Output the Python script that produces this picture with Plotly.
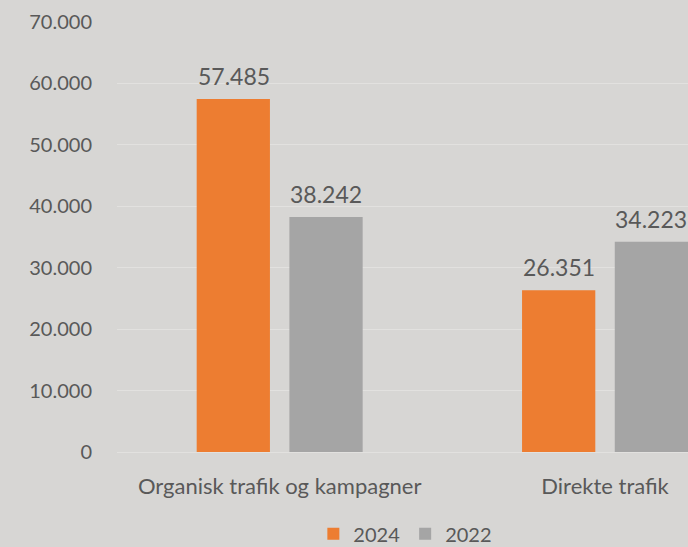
import plotly.graph_objects as go

categories = ["Organisk trafik og kampagner", "Direkte trafik"]
series_names = ["2024", "2022"]
values_2024 = [57485, 26351]
values_2022 = [38242, 34223]
tick_vals = [0, 10000, 20000, 30000, 40000, 50000, 60000, 70000]

colors = ["#ED7D31", "#A5A5A5"]
text_color = "#595959"
font_family = "Lato, 'Open Sans', sans-serif"

fig = go.Figure()
for name, vals, col in zip(series_names, [values_2024, values_2022], colors):
    fig.add_trace(go.Bar(
        name=name, x=categories, y=vals, marker_color=col,
        marker_line_width=0,
    ))

# data labels above bars
offsets = [-46, 46]
for vals, xs in zip([values_2024, values_2022], offsets):
    for cat, v in zip(categories, vals):
        fig.add_annotation(
            x=cat, y=v, xref="x", yref="y", xshift=xs, yshift=7,
            text=f"{v:,}".replace(",", "."), showarrow=False,
            yanchor="bottom", xanchor="center",
            font=dict(size=23, color=text_color, family=font_family),
        )

fig.update_layout(
    width=688, height=547,
    margin=dict(l=117, r=0, t=22, b=95, autoexpand=False),
    paper_bgcolor="#d7d6d4", plot_bgcolor="#d7d6d4",
    barmode="group", bargap=0.43, bargroupgap=0.21,
    separators=",.",
    font=dict(family=font_family, size=20, color=text_color),
    showlegend=True,
    legend=dict(orientation="h", x=0.505, xanchor="center", y=-0.19, yanchor="middle",
                font=dict(size=20, color=text_color), bgcolor="rgba(0,0,0,0)",
                itemwidth=30, tracegroupgap=0),
)
fig.update_xaxes(range=[-0.5, 1.255], showgrid=False, showline=True,
                 linecolor="#e2e1df", linewidth=1, ticks="", ticklabelstandoff=15,
                 tickfont=dict(size=22, color=text_color))
fig.update_yaxes(range=[0, 70000], tickvals=tick_vals, tickformat=",",
                 showgrid=True, gridcolor="#e2e1df", gridwidth=1, zeroline=False,
                 ticks="", ticklabelstandoff=24,
                 tickfont=dict(size=20, color=text_color))

fig.write_html("out.html", config={"displayModeBar": False},
               post_script="document.body.style.margin='0px';document.body.style.overflow='hidden';")
